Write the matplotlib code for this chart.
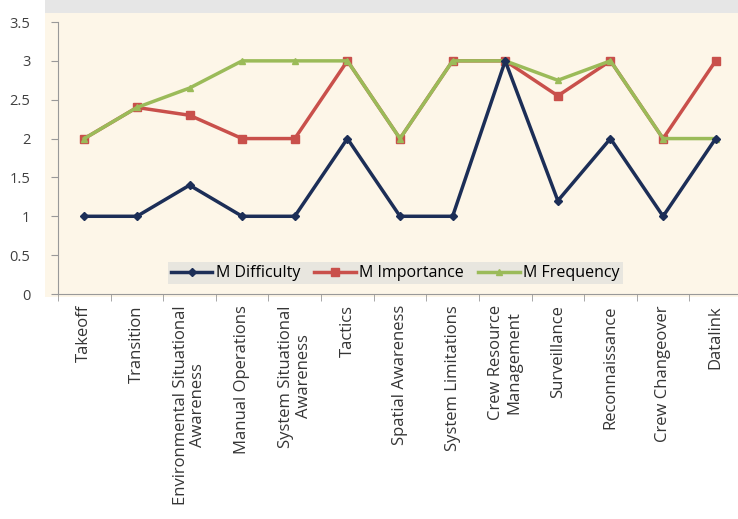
import matplotlib
matplotlib.use('Agg')
import matplotlib.pyplot as plt
from matplotlib.patches import Rectangle
import numpy as np

# 数据
categories = ['Takeoff', 'Transition', 'Environmental Situational\nAwareness',
              'Manual Operations', 'System Situational\nAwareness', 'Tactics',
              'Spatial Awareness', 'System Limitations', 'Crew Resource\nManagement',
              'Surveillance', 'Reconnaissance', 'Crew Changeover', 'Datalink']
difficulty = [1, 1, 1.4, 1, 1, 2, 1, 1, 3, 1.2, 2, 1, 2]
importance = [2, 2.4, 2.3, 2, 2, 3, 2, 3, 3, 2.55, 3, 2, 3]
frequency = [2, 2.4, 2.65, 3, 3, 3, 2, 3, 3, 2.75, 3, 2, 2]

W, H = 738, 519
fig = plt.figure(figsize=(W / 100, H / 100), dpi=100)
plt.rcParams['font.family'] = ['Open Sans', 'DejaVu Sans']

# 背景色块
fig.patches.append(Rectangle((45 / W, 1 - 13 / H), 1 - 45 / W, 13 / H, transform=fig.transFigure,
                             facecolor='#e6e6e6', edgecolor='none', zorder=-10))
fig.patches.append(Rectangle((45 / W, 1 - 297 / H), 1 - 45 / W, (297 - 13) / H,
                             transform=fig.transFigure, facecolor='#fdf6e8',
                             edgecolor='none', zorder=-10))

ax = fig.add_axes([58 / W, 1 - 294 / H, (742 - 58) / W, (294 - 22) / H])
ax.set_facecolor('none')

x = np.arange(len(categories))
ax.plot(x, difficulty, '-D', color='#1c2e57', lw=2.5, ms=4, label='M Difficulty', zorder=3)
ax.plot(x, importance, '-s', color='#c9504b', lw=2.5, ms=6, label='M Importance', zorder=2)
ax.plot(x, frequency, '-^', color='#9bbb59', lw=2.5, ms=5, label='M Frequency', zorder=2)

ax.set_xlim(-0.5, len(categories) - 0.5)
ax.set_ylim(0, 3.5)
ax.set_yticks(np.arange(0, 3.51, 0.5))
ax.set_yticklabels(['0', '0.5', '1', '1.5', '2', '2.5', '3', '3.5'],
                   fontsize=10.5, color='#404040')
ax.set_xticks(x)
ax.set_xticklabels(categories, rotation=90, fontsize=12, color='#353535',
                   ha='center', va='top', multialignment='center', linespacing=1.15)
ax.set_xticks(np.arange(-0.5, len(categories), 1), minor=True)
ax.tick_params(axis='x', which='major', length=0, pad=8)
ax.tick_params(axis='x', which='minor', length=5, color='#999999')
ax.tick_params(axis='y', length=5, color='#999999', pad=15)

for s in ['top', 'right']:
    ax.spines[s].set_visible(False)
ax.spines['left'].set_color('#999999')
ax.spines['bottom'].set_color('#999999')

leg = ax.legend(loc='lower center', bbox_to_anchor=(0.493, 0.035), ncol=3,
                fontsize=11.5, frameon=True, fancybox=False, handlelength=2.6,
                handletextpad=0.2, columnspacing=0.9, borderpad=0.2,
                borderaxespad=0)
leg.get_frame().set_facecolor('#e8e6df')
leg.get_frame().set_edgecolor('none')
leg.get_frame().set_alpha(1)

fig.savefig('out.png', dpi=100)
